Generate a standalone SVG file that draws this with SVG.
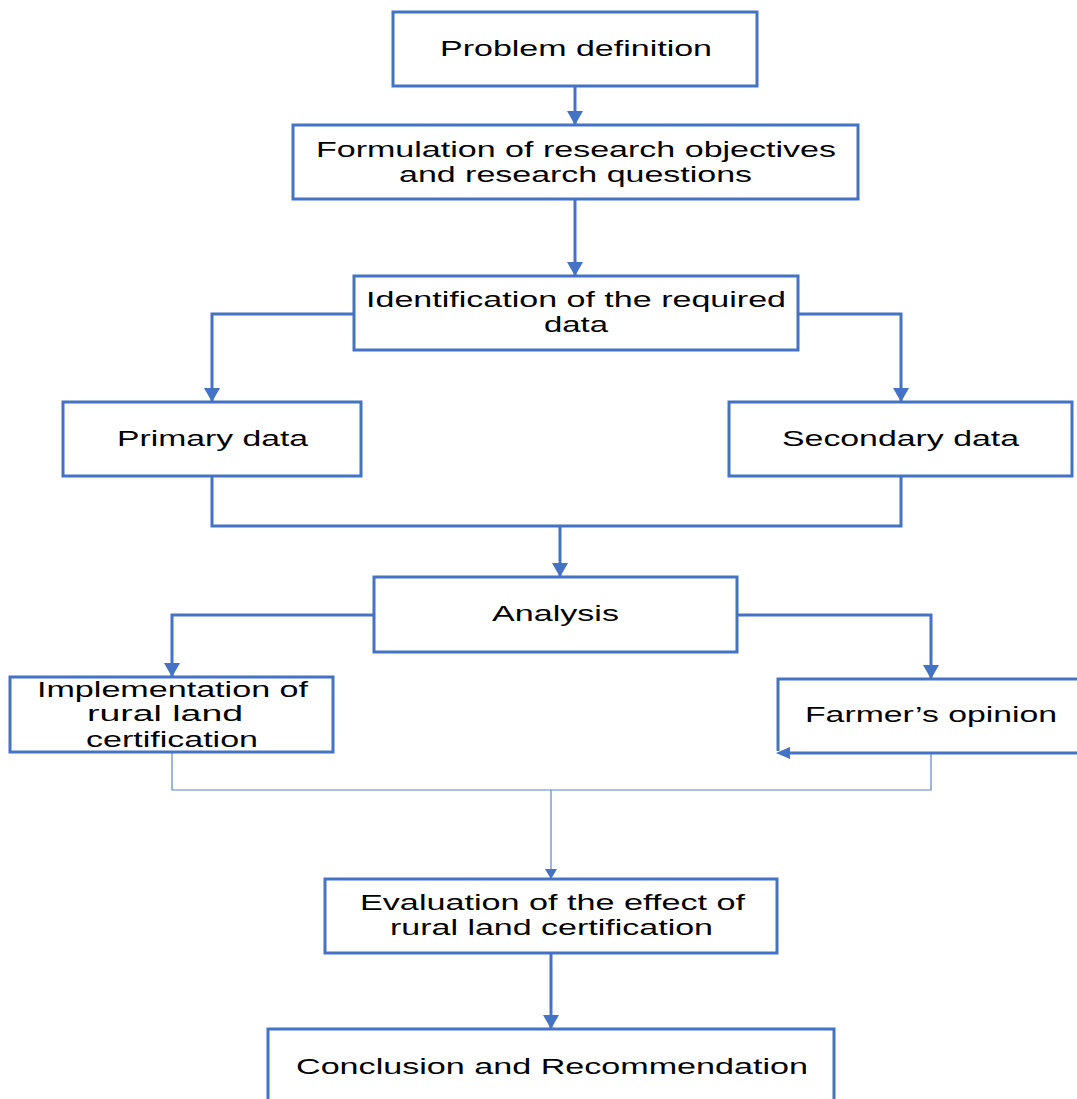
<svg xmlns="http://www.w3.org/2000/svg" width="1077" height="1099" viewBox="0 0 1077 1099">
<defs>
<marker id="ah" markerWidth="14" markerHeight="16" refX="13" refY="8" orient="auto" markerUnits="userSpaceOnUse"><path d="M0,0 L14,8 L0,16 Z" fill="#4472C4"/></marker>
<marker id="ahs" markerWidth="10" markerHeight="12" refX="9" refY="6" orient="auto" markerUnits="userSpaceOnUse"><path d="M0,0 L10,6 L0,12 Z" fill="#4472C4"/></marker>
<style>
.box{fill:#fff;stroke:#4472C4;stroke-width:3}
.c{fill:none;stroke:#4472C4;stroke-width:3}
.t{fill:none;stroke:#5b86cc;stroke-width:1.2}
text{font-family:"Liberation Sans",Arial,sans-serif;font-size:22px;fill:#000}
</style>
</defs>
<rect width="1077" height="1099" fill="#fff"/>
<g id="connectors">
<path class="c" d="M575,86 V124" marker-end="url(#ah)"/>
<path class="c" d="M575,199 V275" marker-end="url(#ah)"/>
<path class="c" d="M354,314 H212 V401" marker-end="url(#ah)"/>
<path class="c" d="M798,314 H901 V401" marker-end="url(#ah)"/>
<path class="c" d="M212,476 V526 H901 V476"/>
<path class="c" d="M560,526 V576" marker-end="url(#ah)"/>
<path class="c" d="M374,615 H172 V676" marker-end="url(#ah)"/>
<path class="c" d="M737,615 H931 V678" marker-end="url(#ah)"/>
<path class="t" d="M172,752 V790 H931 V753"/>
<path class="t" d="M551,790 V878" marker-end="url(#ahs)"/>
<path class="c" d="M551,953 V1028" marker-end="url(#ah)"/>
</g>
<g id="n1"><rect class="box" x="393" y="12" width="364" height="74"/><text x="440" y="56" textLength="272" lengthAdjust="spacingAndGlyphs">Problem definition</text></g>
<g id="n2"><rect class="box" x="293" y="125" width="565" height="74"/><text x="316" y="157" textLength="520" lengthAdjust="spacingAndGlyphs">Formulation of research objectives</text><text x="399" y="182" textLength="353" lengthAdjust="spacingAndGlyphs">and research questions</text></g>
<g id="n3"><rect class="box" x="354" y="276" width="444" height="74"/><text x="366" y="307" textLength="420" lengthAdjust="spacingAndGlyphs">Identification of the required</text><text x="544" y="332" textLength="64" lengthAdjust="spacingAndGlyphs">data</text></g>
<g id="n4"><rect class="box" x="63" y="402" width="298" height="74"/><text x="117" y="446" textLength="191" lengthAdjust="spacingAndGlyphs">Primary data</text></g>
<g id="n5"><rect class="box" x="729" y="402" width="343" height="74"/><text x="782" y="446" textLength="237" lengthAdjust="spacingAndGlyphs">Secondary data</text></g>
<g id="n6"><rect class="box" x="374" y="577" width="363" height="75"/><text x="492" y="621" textLength="127" lengthAdjust="spacingAndGlyphs">Analysis</text></g>
<g id="n7"><rect class="box" x="10" y="677" width="323" height="75"/><text x="37" y="697" textLength="271" lengthAdjust="spacingAndGlyphs">Implementation of</text><text x="87" y="721" textLength="156" lengthAdjust="spacingAndGlyphs">rural land</text><text x="86" y="747" textLength="172" lengthAdjust="spacingAndGlyphs">certification</text></g>
<g id="n8"><path class="box" d="M1080,679 H778 V751 M780,753 H1080"/><path d="M776,753 L790,747 L790,759 Z" fill="#4472C4"/><text x="805" y="722" textLength="252" lengthAdjust="spacingAndGlyphs">Farmer’s opinion</text></g>
<g id="n9"><rect class="box" x="325" y="879" width="452" height="74"/><text x="360" y="910" textLength="385" lengthAdjust="spacingAndGlyphs">Evaluation of the effect of</text><text x="390" y="935" textLength="323" lengthAdjust="spacingAndGlyphs">rural land certification</text></g>
<g id="n10"><path class="box" d="M268,1100 V1029 H834 V1100"/><text x="296" y="1074" textLength="512" lengthAdjust="spacingAndGlyphs">Conclusion and Recommendation</text></g>
</svg>
